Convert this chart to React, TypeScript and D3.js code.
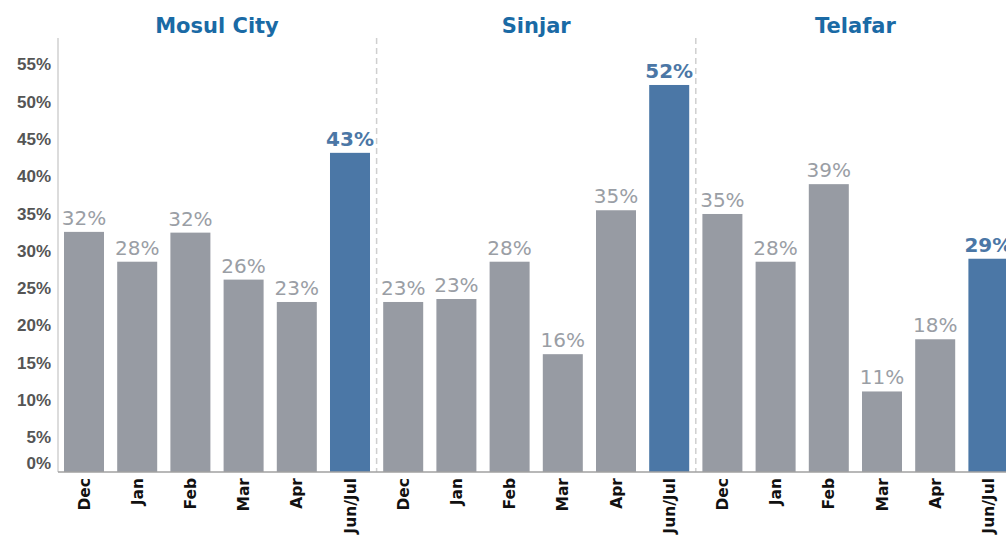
import React from "react";
import * as d3 from "d3";

const regions = ["Mosul City", "Sinjar", "Telafar"];
const months = ["Dec", "Jan", "Feb", "Mar", "Apr", "Jun/Jul"];
const mosulValues = [32.2, 28.2, 32.1, 25.8, 22.8, 42.8];
const sinjarValues = [22.8, 23.2, 28.2, 15.8, 35.1, 51.9];
const telafarValues = [34.6, 28.2, 38.6, 10.8, 17.8, 28.6];
const yTicks = [0, 5, 10, 15, 20, 25, 30, 35, 40, 45, 50, 55];

const W = 1006;
const H = 539;
const baseY = 472;
const GREY = "#979ba3";
const BLUE = "#4b77a6";
const FONT = "'DejaVu Sans', Verdana, sans-serif";

export default function App() {
  const seriesValues = [mosulValues, sinjarValues, telafarValues];
  const bars = seriesValues.flatMap((vals, r) =>
    vals.map((v, i) => ({ key: `${r}-${i}`, region: r, month: months[i], value: v, last: i === months.length - 1 }))
  );

  const x = d3
    .scaleBand<string>()
    .domain(bars.map((b) => b.key))
    .range([57.4, 57.4 + 18 * 53.2])
    .paddingInner(0.248)
    .paddingOuter(0.124);
  const y = d3.scaleLinear().domain([0, 58.2]).range([baseY, 38]);

  const step = x.step();
  const groupLeft = (r: number) => (x(`${r}-0`) as number) - step * x.paddingInner() / 2;
  const groupRight = (r: number) => groupLeft(r) + step * months.length;

  return (
    <div style={{ position: "fixed", left: 0, top: 0 }}>
      <svg width={W} height={H} style={{ display: "block", background: "#fff" }}>
        {/* y axis */}
        <line x1={58} x2={58} y1={38} y2={baseY} stroke="#d0d0d0" strokeWidth={1.5} />
        {yTicks.map((t) => (
          <text
            key={t}
            x={51}
            y={t === 0 ? y(t) - 3 : y(t) + 8.5}
            textAnchor="end"
            fontFamily="'Liberation Sans', Arial, sans-serif"
            fontWeight="bold"
            fontSize={17}
            fill="#555"
          >
            {t}%
          </text>
        ))}

        {/* group dividers */}
        {[1, 2].map((r) => (
          <line
            key={r}
            x1={groupLeft(r)}
            x2={groupLeft(r)}
            y1={38}
            y2={baseY}
            stroke="#cfcfcf"
            strokeWidth={1.5}
            strokeDasharray="6,4"
          />
        ))}

        {/* titles */}
        {regions.map((name, r) => (
          <text
            key={name}
            x={(groupLeft(r) + groupRight(r)) / 2}
            y={33}
            textAnchor="middle"
            fontFamily={FONT}
            fontWeight="bold"
            fontSize={21}
            fill="#1a6aa5"
          >
            {name}
          </text>
        ))}

        {/* bars */}
        {bars.map((b) => (
          <g key={b.key}>
            <rect
              x={x(b.key)}
              y={y(b.value)}
              width={x.bandwidth()}
              height={baseY - y(b.value)}
              fill={b.last ? BLUE : GREY}
            />
            <text
              x={(x(b.key) as number) + x.bandwidth() / 2}
              y={y(b.value) - 7}
              textAnchor="middle"
              fontFamily={FONT}
              fontWeight={b.last ? "bold" : "normal"}
              fontSize={20}
              fill={b.last ? BLUE : "#9a9ea5"}
            >
              {Math.round(b.value)}%
            </text>
            <text
              transform={`translate(${(x(b.key) as number) + x.bandwidth() / 2 + 5.5},${baseY + 6}) rotate(-90)`}
              textAnchor="end"
              fontFamily={FONT}
              fontWeight="bold"
              fontSize={15.5}
              fill="#111"
            >
              {b.month}
            </text>
          </g>
        ))}

        {/* baseline */}
        <line x1={58} x2={W} y1={baseY} y2={baseY} stroke="#a0a0a0" strokeWidth={1.5} />
      </svg>
    </div>
  );
}
